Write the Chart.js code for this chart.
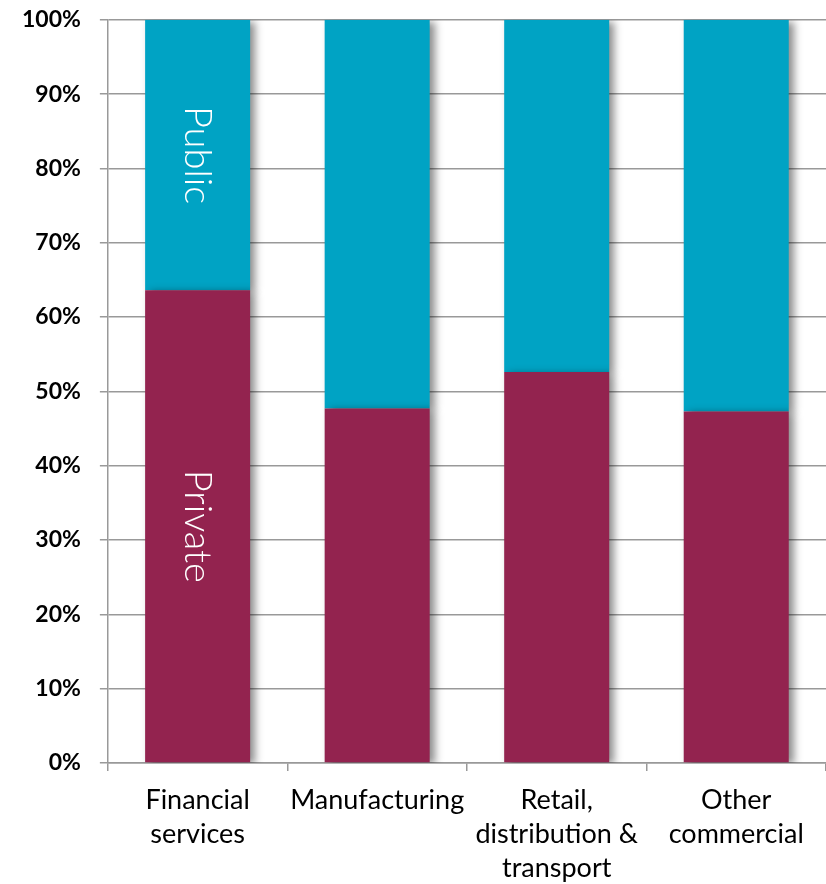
<!DOCTYPE html>
<html>
<head>
<meta charset="utf-8">
<script src="https://cdn.jsdelivr.net/npm/chart.js@4/dist/chart.umd.min.js"></script>
<style>
  html, body { margin: 0; padding: 0; background: #fff; overflow: hidden; }
  #wrap { width: 826px; height: 897px; margin-top: -13px; }
</style>
</head>
<body>
<div id="wrap"><canvas id="chart"></canvas></div>
<script>
const categories = [
  ['Financial', 'services'],
  ['Manufacturing'],
  ['Retail,', 'distribution &', 'transport'],
  ['Other', 'commercial']
];
const privateShare = [63.6, 47.7, 52.6, 47.3];
const publicShare = privateShare.map(v => 100 - v);
const yTicks = [0, 10, 20, 30, 40, 50, 60, 70, 80, 90, 100];

const PRIVATE_COLOR = '#93234F';
const PUBLIC_COLOR = '#00A3C4';

// soft drop shadow behind bars, like the office chart
const barShadow = {
  id: 'barShadow',
  beforeDatasetsDraw(chart) {
    const ctx = chart.ctx;
    ctx.save();
    ctx.shadowColor = 'rgba(0,0,0,0.45)';
    ctx.shadowBlur = 8;
    ctx.shadowOffsetX = 5;
    ctx.shadowOffsetY = 2;
  },
  afterDatasetsDraw(chart) {
    chart.ctx.restore();
  }
};

// rotated series names inside the first bar
const seriesNames = {
  id: 'seriesNames',
  afterDatasetsDraw(chart) {
    const ctx = chart.ctx;
    chart.data.datasets.forEach((ds, i) => {
      const bar = chart.getDatasetMeta(i).data[0];
      if (!bar) return;
      const { x, y, base } = bar.getProps(['x', 'y', 'base'], true);
      ctx.save();
      ctx.translate(x, (y + base) / 2);
      ctx.rotate(Math.PI / 2);
      ctx.fillStyle = '#ffffff';
      ctx.font = '300 38px Lato, "Open Sans", sans-serif';
      ctx.textAlign = 'center';
      ctx.textBaseline = 'middle';
      ctx.fillText(ds.label, 0, 0);
      ctx.restore();
    });
  }
};

new Chart(document.getElementById('chart'), {
  type: 'bar',
  data: {
    labels: categories,
    datasets: [
      { label: 'Private', data: privateShare, backgroundColor: PRIVATE_COLOR },
      { label: 'Public', data: publicShare, backgroundColor: PUBLIC_COLOR }
    ]
  },
  options: {
    responsive: true,
    maintainAspectRatio: false,
    animation: false,
    categoryPercentage: 1,
    barPercentage: 0.585,
    layout: { padding: { top: 0, right: 0, left: 3, bottom: -13 } },
    plugins: {
      legend: { display: false },
      tooltip: { enabled: false }
    },
    scales: {
      x: {
        stacked: true,
        grid: {
          offset: true,
          drawOnChartArea: false,
          drawTicks: true,
          tickLength: 8,
          color: '#999999',
          lineWidth: 1.5
        },
        border: { color: '#999999', width: 1.5 },
        ticks: {
          color: '#000000',
          padding: 12,
          maxRotation: 0,
          font: { family: 'Lato, "Open Sans", sans-serif', size: 27, lineHeight: 1.26 }
        }
      },
      y: {
        stacked: true,
        min: 0,
        max: 100,
        afterBuildTicks(axis) {
          axis.ticks = yTicks.map(v => ({ value: v }));
        },
        grid: {
          color: '#999999',
          lineWidth: 1.5,
          tickLength: 8
        },
        border: { color: '#999999', width: 1.5 },
        ticks: {
          color: '#000000',
          padding: 19,
          callback: v => v + '%',
          font: { family: 'Lato, "Open Sans", sans-serif', size: 23, weight: 'bold' }
        }
      }
    }
  },
  plugins: [barShadow, seriesNames]
});
</script>
</body>
</html>
